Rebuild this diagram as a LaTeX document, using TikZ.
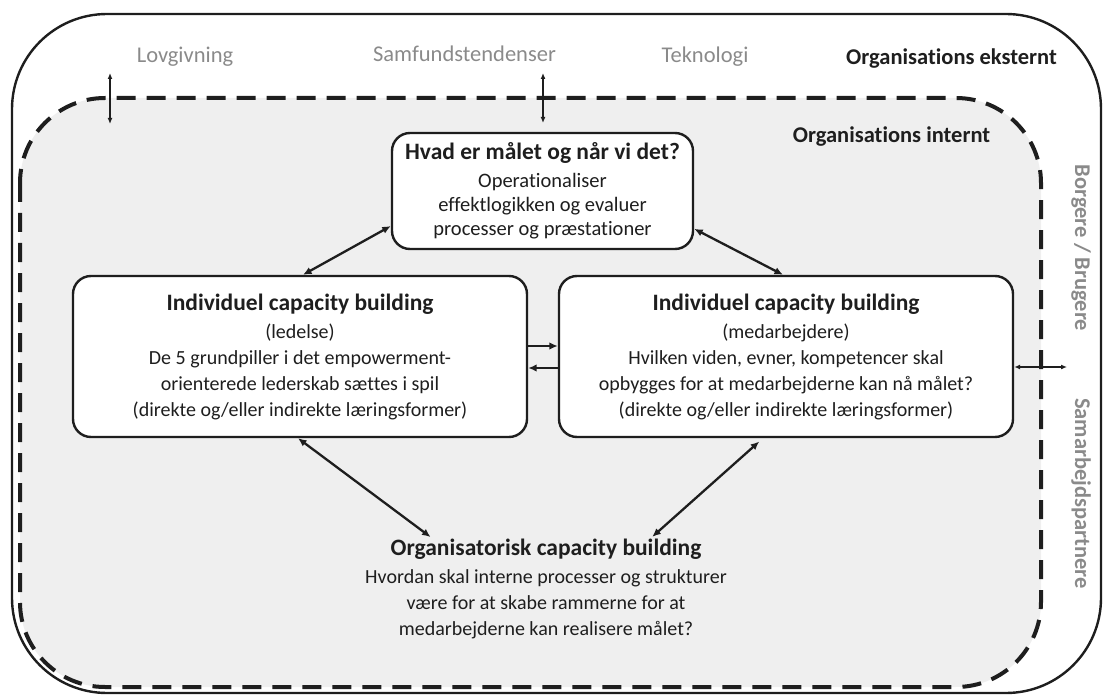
\documentclass[tikz,border=0pt]{standalone}
\usepackage{fontspec}
\setmainfont[RawFeature={-liga;-clig;-calt}]{Carlito}
\usetikzlibrary{arrows.meta}

\definecolor{innerfill}{HTML}{EFEFEF}
\definecolor{worldgrey}{HTML}{8A8A8A}
\definecolor{ink}{HTML}{1E1E1E}

\newcommand{\boxhead}[1]{{\fontsize{23.5}{27}\selectfont\bfseries #1}}

\tikzset{
    frame/.style={draw=ink, line width=2.4pt, rounded corners=95pt},
    inside/.style={draw=ink, fill=innerfill, line width=4pt, dash pattern=on 19pt off 11pt, rounded corners=85pt},
    box/.style={draw=ink, fill=white, line width=2.4pt, rounded corners=18pt, align=center, text=ink, inner sep=0pt, font=\fontsize{20}{26}\selectfont},
    world/.style={text=worldgrey, anchor=base, font=\fontsize{22.5}{27}\selectfont},
    side/.style={text=worldgrey, rotate=-90, font=\fontsize{22.5}{27}\selectfont\bfseries},
    zone/.style={text=ink, anchor=base, font=\fontsize{22.5}{27}\selectfont\bfseries},
    orgtext/.style={text=ink, align=center, inner sep=0pt, font=\fontsize{20}{26}\selectfont},
    link/.style={draw=ink, line width=2.3pt, {Latex[length=8.5pt,width=7.5pt]}-{Latex[length=8.5pt,width=7.5pt]}},
    onelink/.style={draw=ink, line width=2.3pt, -{Latex[length=8.5pt,width=7.5pt]}},
    smalllink/.style={draw=ink, line width=1.4pt, {Latex[length=6pt,width=5pt]}-{Latex[length=6pt,width=5pt]}}
}

\begin{document}
\begin{tikzpicture}[x=1pt, y=-1pt]
        \useasboundingbox (0,0) rectangle (1103,695);
        \draw[frame] (12,14) rectangle (1101,693);
        \draw[inside] (20,98) rectangle (1041,687);

        \node[world] (law) at (185,63) {Lovgivning};
        \node[world] (society) at (464.5,62) {Samfundstendenser};
        \node[world] (tech) at (705,63) {Teknologi};
        \node[zone] (external) at (951.5,65) {Organisations eksternt};
        \node[zone] (internal) at (891.5,143) {Organisations internt};
        \node[side] (citizens) at (1081,248) {Borgere / Brugere};
        \node[side] (partners) at (1081,493.5) {Samarbejdspartnere};

        \node[box, minimum width=301pt, minimum height=116pt, font=\fontsize{20.5}{24}\selectfont] (goal) at (542.5,191) {\boxhead{Hvad er målet og når vi det?}\\[4pt]Operationaliser\\effektlogikken og evaluer\\processer og præstationer};
        \node[box, minimum width=454pt, minimum height=161pt] (ledelse) at (300,356.5) {\boxhead{Individuel capacity building}\\[2pt](ledelse)\\De 5 grundpiller i det empowerment-\\orienterede lederskab sættes i spil\\(direkte og/eller indirekte læringsformer)};
        \node[box, minimum width=454pt, minimum height=161pt] (medarb) at (786,356.5) {\boxhead{Individuel capacity building}\\[2pt](medarbejdere)\\Hvilken viden, evner, kompetencer skal\\opbygges for at medarbejderne kan nå målet?\\(direkte og/eller indirekte læringsformer)};
        \node[orgtext] (org) at (546,589) {\boxhead{Organisatorisk capacity building}\\[2pt]Hvordan skal interne processer og strukturer\\være for at skabe rammerne for at\\medarbejderne kan realisere målet?};

        \coordinate (lawtop) at (110,73);
        \coordinate (lawbottom) at (110,124);
        \coordinate (societytop) at (543,73);
        \coordinate (societybottom) at (543,123);
        \coordinate (partnerend) at (1067,367);

        \draw[smalllink] (lawtop) -- (lawbottom);
        \draw[smalllink] (societytop) -- (societybottom);
        \draw[smalllink] (medarb.east |- partnerend) -- (partnerend);

        \draw[link] (goal.193) -- ([xshift=3pt]ledelse.north);
        \draw[link] (goal.346) -- ([xshift=-3pt]medarb.north);
        \draw[onelink] ([yshift=10.5pt]ledelse.east) -- ([yshift=10.5pt]medarb.west);
        \draw[onelink] ([yshift=-11.5pt]medarb.west) -- ([yshift=-11.5pt]ledelse.east);
        \draw[link, shorten >=3pt] ([xshift=-2pt]ledelse.south) -- ([xshift=-113pt]org.north);
        \draw[link, shorten <=5pt, shorten >=3pt] ([xshift=-23pt]medarb.south) -- ([xshift=104pt]org.north);
\end{tikzpicture}
\end{document}
